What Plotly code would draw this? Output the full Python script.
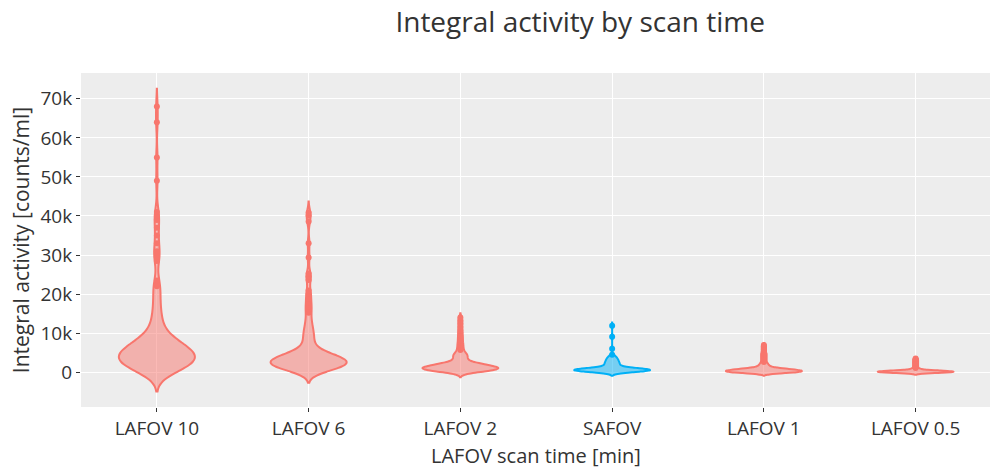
import plotly.graph_objects as go

categories = ["LAFOV 10", "LAFOV 6", "LAFOV 2", "SAFOV", "LAFOV 1", "LAFOV 0.5"]

# Integral activity [counts/ml] per scan time (body of distribution)
lafov10_body = [-320, -120, 60, 210, 360, 510, 640, 770, 890, 1000,
                1120, 1230, 1330, 1440, 1540, 1630, 1720, 1820, 1900, 1990,
                2080, 2160, 2250, 2330, 2410, 2490, 2570, 2650, 2730, 2810,
                2880, 2960, 3030, 3110, 3180, 3260, 3330, 3400, 3470, 3550,
                3620, 3690, 3760,
                3840, 3920, 4000, 4080, 4160, 4250, 4330, 4410, 4490, 4580,
                4660, 4740, 4830, 4910, 5000, 5090, 5170, 5260, 5350, 5450,
                5540, 5630, 5730, 5830, 5930, 6020, 6120, 6220, 6320, 6420,
                6530, 6640, 6760, 6880, 7010, 7140, 7260, 7400, 7550, 7710,
                7860, 8030, 8210, 8410, 8630, 8860, 9110, 9410, 9750, 10140,
                10600, 11100, 11700, 12300, 12900, 13600, 14300, 15100, 15900,
                16800, 17800, 18900, 20000, 20900]
lafov10_outliers = [22000, 22500, 23500, 28500, 29500, 30500, 31000, 33000, 35000,
                    37000, 39000, 40000, 41000, 49000, 55000, 64000, 68000]

lafov6_body = [90, 250, 380, 500, 620, 720, 810, 900, 990, 1070,
               1150, 1220, 1300, 1370, 1430, 1500, 1560, 1630, 1690, 1750,
               1810, 1870, 1930, 1980, 2040, 2100, 2150, 2200, 2260, 2310,
               2370, 2420, 2470,
               2530, 2590, 2650, 2710, 2770, 2830, 2890, 2950, 3010, 3070,
               3140, 3200, 3270, 3330, 3400, 3460, 3530, 3600, 3680, 3750,
               3830, 3900, 3990, 4070, 4160, 4250, 4350, 4460, 4570, 4690,
               4810, 4950, 5120, 5300, 5520, 5790, 6170,
               6900, 7300, 7800, 8300, 8800, 9300, 9800, 10300, 10800, 11400,
               12200, 13000, 13800]
lafov6_outliers = [15200, 16000, 16800, 17700, 18900, 20000, 20900, 23600, 24500,
                   25300, 29400, 33000, 38600, 40100, 40900]

lafov2_body = [-210, -40, 60, 140, 210, 270, 320, 360, 410, 450,
               490, 520, 560, 590, 630, 660, 690, 720, 750,
               790, 820, 850, 880, 920, 950, 980, 1020, 1050, 1080,
               1120, 1150, 1190, 1220, 1260, 1300, 1330, 1370, 1410, 1450,
               1490, 1530, 1570, 1610, 1660, 1700, 1750, 1800, 1850, 1910,
               1960, 2020, 2090, 2160, 2230, 2320, 2410, 2510, 2640, 2800, 3000,
               3300, 3500, 3700, 3900, 4100, 4300, 4500, 4700, 4900, 5200]
lafov2_outliers = [5700, 6100, 6600, 7100, 7600, 8200, 8800, 9400, 10100,
                   10800, 11600, 12400, 13200, 14000]

safov_body = [-110, -50, -10, 30, 70, 100, 130, 160, 190, 210,
              240, 260, 280, 300, 320, 340, 360, 380, 400, 420,
              440, 450, 470, 490,
              510, 520, 530, 540, 550, 560, 580, 590, 600, 610,
              620, 640, 650, 660, 680, 690, 700, 720, 730, 750,
              760, 780, 790, 810, 830, 850, 860, 890, 910, 930,
              960, 990, 1020, 1060, 1100, 1160,
              1280, 1380, 1480, 1580, 1680, 1780, 1880, 1980, 2080, 2180,
              2280, 2390, 2500, 2610, 2720, 2840, 2960, 3080, 3210, 3340,
              3480, 3630, 3790, 3960, 4150]
safov_outliers = [4500, 6000, 9100, 11900]

lafov1_body = [-390, -330, -280, -240, -200, -170, -140, -110, -80, -50,
               -30, 0, 20, 40, 60, 80, 100, 120, 140, 160,
               180, 200, 220, 240,
               260, 280, 300, 320, 340, 360, 380, 400, 420, 440,
               460, 480, 500, 520, 550, 570, 590, 620, 640, 660,
               690, 720, 740, 770, 800, 830, 860, 900, 930, 980,
               1020, 1070, 1120, 1190, 1260, 1370,
               1500, 1650, 1800, 1950, 2150, 2350]
lafov1_outliers = [2600, 2900, 3200, 3500, 3800, 4100, 4400, 4700, 5000, 5400,
                   5800, 6200, 6600, 7000]

lafov05_body = [-270, -240, -210, -190, -170, -150, -130, -120, -100, -90,
                -70, -60, -50, -40, -20, -10, 0, 10, 20, 30,
                40, 50, 60, 70,
                85, 95, 105, 115, 125, 135, 145, 155, 166, 177,
                187, 198, 208, 220, 230, 242, 254, 266, 278, 291,
                304, 317, 331, 345, 360, 376, 392, 410, 428, 449,
                470, 497, 524, 557, 596, 647,
                750, 850, 950]
lafov05_outliers = [1100, 1300, 1500, 1700, 1900, 2100, 2300, 2500, 2700, 2900,
                    3100, 3300, 3500]

bodies = [lafov10_body, lafov6_body, lafov2_body, safov_body, lafov1_body, lafov05_body]
outliers = [lafov10_outliers, lafov6_outliers, lafov2_outliers, safov_outliers,
            lafov1_outliers, lafov05_outliers]

RED = "#F8766D"
BLUE = "#00B0F6"
colors = {"SAFOV": BLUE}
fills = {RED: "rgba(248,118,109,0.5)", BLUE: "rgba(0,176,246,0.5)"}
bandwidths = [2300, 1400, 550, 400, 250, 200]

fig = go.Figure()
for cat, body, outl, bw in zip(categories, bodies, outliers, bandwidths):
    col = colors.get(cat, RED)
    sample = body + outl
    fig.add_trace(go.Violin(
        x=[cat] * len(sample), y=sample, name=cat,
        line=dict(color=col, width=2), fillcolor=fills[col],
        points=False, bandwidth=bw, width=0.5, spanmode="soft",
        showlegend=False, hoverinfo="skip"))
    fig.add_trace(go.Scatter(
        x=[cat] * len(outl), y=outl, mode="markers",
        marker=dict(color=col, size=6), showlegend=False, hoverinfo="skip"))

fig.update_layout(
    template="ggplot2",
    width=990, height=469,
    margin=dict(l=81, r=0, t=73, b=62),
    violinmode="overlay",
    font=dict(family="Open Sans, sans-serif", color="rgb(51,51,51)", size=19),
    title=dict(text="Integral activity by scan time", x=0.586, xanchor="center",
               y=0.953, yanchor="middle", font=dict(size=28)),
    plot_bgcolor="rgb(237,237,237)", paper_bgcolor="white",
    annotations=[dict(text="LAFOV scan time [min]", xref="paper", yref="paper",
                      x=0.5, y=-0.1452, xanchor="center", yanchor="middle",
                      showarrow=False, font=dict(size=20, color="rgb(51,51,51)"))],
)
fig.update_xaxes(type="category", categoryorder="array", categoryarray=categories,
                 range=[-0.5, 5.49],
                 tickfont=dict(size=19), showgrid=True, gridcolor="white",
                 ticks="outside", ticklen=4, tickcolor="rgb(51,51,51)", zeroline=False,
                 ticklabelstandoff=0)
fig.update_yaxes(range=[-8900, 76600], dtick=10000, tick0=0,
                 title=dict(text="Integral activity [counts/ml]", font=dict(size=21), standoff=5),
                 tickfont=dict(size=19), showgrid=True, gridcolor="white",
                 ticks="outside", ticklen=4, tickcolor="rgb(51,51,51)", zeroline=False)

fig.write_html("out.html", post_script="document.body.style.margin='0';",
               config={"displayModeBar": False})
